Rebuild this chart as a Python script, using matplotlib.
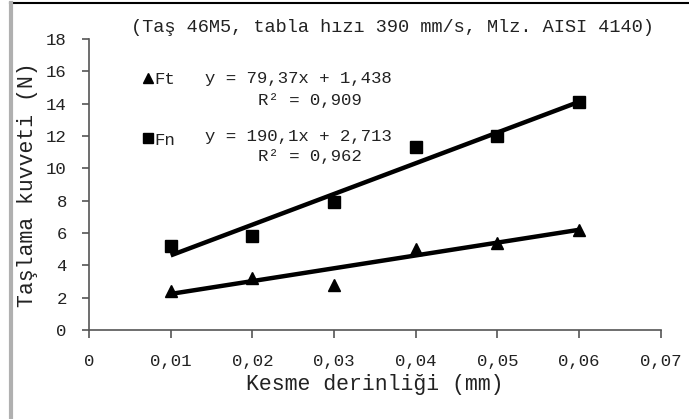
import numpy as np
import matplotlib.pyplot as plt
from matplotlib.lines import Line2D

# data
depth = [0.01, 0.02, 0.03, 0.04, 0.05, 0.06]
ft_force = [2.4, 3.2, 2.8, 5.0, 5.4, 6.2]
fn_force = [5.2, 5.8, 7.9, 11.3, 12.0, 14.1]

# trendline coefficients shown on the chart (slope, intercept)
ft_fit = [79.37, 1.438]
fn_fit = [190.1, 2.713]
ft_eq = ["y = 79,37x + 1,438", "R² = 0,909"]
fn_eq = ["y = 190,1x + 2,713", "R² = 0,962"]

x_ticks = [0, 0.01, 0.02, 0.03, 0.04, 0.05, 0.06, 0.07]
x_labels = ["0", "0,01", "0,02", "0,03", "0,04", "0,05", "0,06", "0,07"]
y_ticks = [0, 2, 4, 6, 8, 10, 12, 14, 16, 18]

title = "(Taş 46M5, tabla hızı 390 mm/s, Mlz. AISI 4140)"
xlabel = "Kesme derinliği (mm)"
ylabel = "Taşlama kuvveti (N)"

plt.rcParams['font.family'] = ['Liberation Mono', 'DejaVu Sans Mono']
txt_col = '#222222'

fig = plt.figure(figsize=(6.89, 4.19), dpi=100)
ax = fig.add_axes([0.1292, 0.2124, 0.830, 0.6945])

# outer frame pieces of the original screenshot
fig.add_artist(Line2D([0.015, 1.0], [0.993, 0.993], color='black', lw=1.5))
fig.add_artist(Line2D([0.016, 0.016], [0.0, 0.993], color='#b0b0b0', lw=3))

xs = np.array([depth[0], depth[-1]])
ax.plot(xs, ft_fit[0] * xs + ft_fit[1], color='black', lw=3.2, solid_capstyle='butt')
ax.plot(xs, fn_fit[0] * xs + fn_fit[1], color='black', lw=3.2, solid_capstyle='butt')
ax.plot(depth, ft_force, linestyle='none', marker='^', ms=8, color='black', label='Ft', zorder=3)
ax.plot(depth, fn_force, linestyle='none', marker='s', ms=8.5, color='black', label='Fn', zorder=3)

ax.set_xlim(0, 0.07)
ax.set_ylim(0, 18)
ax.set_xticks(x_ticks)
ax.set_xticklabels(x_labels)
ax.set_yticks(y_ticks)
for s in ['top', 'right']:
    ax.spines[s].set_visible(False)
for s in ['left', 'bottom']:
    ax.spines[s].set_color('#555555')
    ax.spines[s].set_linewidth(1.2)
ax.tick_params(axis='both', direction='out', colors='#555555', labelcolor=txt_col,
               labelsize=12.5, width=1.2)
ax.tick_params(axis='x', length=6, pad=11)
ax.tick_params(axis='y', length=5, pad=11)

ax.set_xlabel(xlabel, fontsize=15.5, color=txt_col, labelpad=4)
ax.set_ylabel(ylabel, fontsize=15.5, color=txt_col, labelpad=6)

fig.text(0.569, 0.935, title, ha='center', va='center', fontsize=13.4, color=txt_col)

leg = ax.legend(loc='upper left', bbox_to_anchor=(0.066, 0.94), frameon=False,
                handlelength=0.6, handletextpad=0.1, labelspacing=2.6,
                prop={'family': 'Liberation Mono', 'size': 12.5}, markerscale=0.9)
for t in leg.get_texts():
    t.set_color(txt_col)

ax.text(0.203, 0.865, ft_eq[0], transform=ax.transAxes, fontsize=12.5, color=txt_col, va='center')
ax.text(0.296, 0.79, ft_eq[1], transform=ax.transAxes, fontsize=12.5, color=txt_col, va='center')
ax.text(0.203, 0.665, fn_eq[0], transform=ax.transAxes, fontsize=12.5, color=txt_col, va='center')
ax.text(0.296, 0.595, fn_eq[1], transform=ax.transAxes, fontsize=12.5, color=txt_col, va='center')

fig.savefig('out.png', dpi=100)
